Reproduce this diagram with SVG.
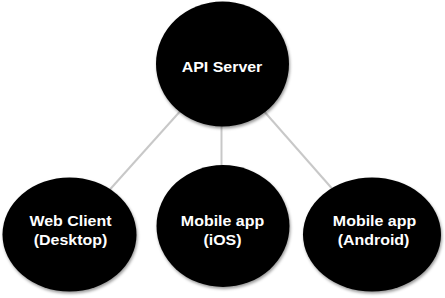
<svg xmlns="http://www.w3.org/2000/svg" width="445" height="298" viewBox="0 0 445 298">
  <style>
    .node { fill: #000; filter: url(#shadow); }
    .label { fill: #fff; font-family: "Liberation Sans", Arial, sans-serif; font-weight: bold; font-size: 14.5px; text-anchor: middle; }
    .link { stroke: #c8c8c8; stroke-width: 2; fill: none; }
  </style>
  <defs>
    <filter id="shadow" x="-20%" y="-20%" width="140%" height="140%">
      <feDropShadow dx="1" dy="2" stdDeviation="1.5" flood-color="#000" flood-opacity="0.4"/>
    </filter>
  </defs>
  <rect width="445" height="298" fill="#fff"/>

  <!-- connectors from the server hub to each client -->
  <g id="connectors">
    <line class="link" x1="222.5" y1="64" x2="70" y2="234"/>
    <line class="link" x1="221.5" y1="64" x2="221.5" y2="226"/>
    <line class="link" x1="222.5" y1="64" x2="372" y2="234"/>
  </g>

  <g id="api-server">
    <ellipse class="node" cx="222.5" cy="64" rx="66.5" ry="62.5"/>
    <text class="label" transform="translate(222 71.5) scale(1.1 1)">API Server</text>
  </g>

  <g id="web-client">
    <ellipse class="node" cx="69.5" cy="234.5" rx="67" ry="57"/>
    <text class="label" transform="translate(70.5 226) scale(1.1 1)">Web Client</text>
    <text class="label" transform="translate(70.5 245) scale(1.1 1)">(Desktop)</text>
  </g>

  <g id="mobile-ios">
    <ellipse class="node" cx="223" cy="226" rx="66.5" ry="61"/>
    <text class="label" transform="translate(222.5 226) scale(1.1 1)">Mobile app</text>
    <text class="label" transform="translate(222.5 245) scale(1.1 1)">(iOS)</text>
  </g>

  <g id="mobile-android">
    <ellipse class="node" cx="372" cy="234.5" rx="69" ry="57"/>
    <text class="label" transform="translate(374.5 226) scale(1.1 1)">Mobile app</text>
    <text class="label" transform="translate(373.5 245) scale(1.1 1)">(Android)</text>
  </g>
</svg>
